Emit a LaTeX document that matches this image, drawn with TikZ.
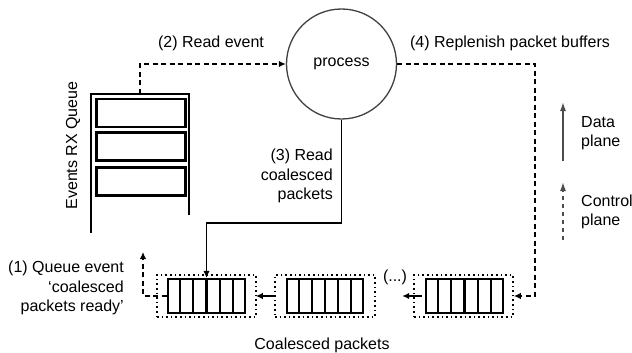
\documentclass[tikz,border=0pt]{standalone}
\usepackage{fontspec}
\setmainfont{Liberation Sans}
\usetikzlibrary{arrows.meta,calc}
\begin{document}
\begin{tikzpicture}[x=1pt,y=-1pt,
  lbl/.style={inner sep=0pt,font=\fontsize{16}{19.5}\selectfont},
  conn/.style={line width=1.5pt,-{Latex[length=7pt,width=6.5pt]}},
  dconn/.style={conn,dash pattern=on 5pt off 3.5pt},
  slot/.style={draw,line width=2.2pt,minimum width=89pt,minimum height=28pt,inner sep=0pt},
  pkt/.style={draw,line width=2.2pt,minimum width=77pt,minimum height=34pt,inner sep=0pt},
  dotbox/.style={draw,line width=1.6pt,dash pattern=on 1.6pt off 3pt,minimum width=99pt,minimum height=42pt,inner sep=0pt},
  legend/.style={line width=1.5pt,draw=black!70,-{Latex[length=9pt,width=6pt]}},
]
\useasboundingbox (0,0) rectangle (632,353);

% process circle
\node[circle,draw=black!75,line width=1.3pt,minimum size=110pt,inner sep=0pt,lbl] (proc) at (341.5,64) {process};

% queue
\draw[line width=2.2pt] (91,233) -- (91,94) -- (189,94) -- (189,215);
\coordinate (qtop) at (140,94);
\node[slot] (s1) at (141,113) {};
\node[slot] (s2) at (141,146.5) {};
\node[slot] (s3) at (141,181.5) {};
\node[lbl,rotate=90] (qlbl) at (73,145.5) {Events RX Queue};

% packet groups
\node[dotbox] (g1d) at (206.5,296) {};
\node[pkt] (g1i) at (206.5,296) {};
\node[dotbox,minimum width=100pt] (g2d) at (325,296) {};
\node[pkt,minimum width=76pt] (g2i) at (325,296) {};
\node[dotbox] (g3d) at (463.5,296) {};
\node[pkt] (g3i) at (464.5,296) {};
\foreach \g in {g1i,g2i,g3i}{
  \foreach \k in {1,...,5}{
    \draw[line width=2.2pt] ($(\g.north west)!\k/6!(\g.north east)$) -- ($(\g.south west)!\k/6!(\g.south east)$);
  }
}
\node[lbl] (dots) at (395,277) {(...)};
\node[lbl] (cp) at (322,345) {Coalesced packets};

% arrows between groups
\draw[conn] ($(g2d.west)+(2,0)$) -- ($(g1d.east)+(-1,0)$);
\draw[conn] ($(g3d.west)+(9,0)$) -- ($(g3d.west)+(-11,0)$);

% (2) read event
\draw[dconn] (qtop) |- (proc.west);
\node[lbl] (l2) at (211,43) {(2) Read event};

% (4) replenish
\coordinate (c4) at (535,296);
\draw[dconn] (proc.east) -| (c4) -- (g3d.east);
\node[lbl] (l4) at (510,43) {(4) Replenish packet buffers};

% (3) read coalesced packets
\coordinate (c3) at (206.5,223);
\draw[conn] (proc.south) |- (c3) -- (g1i.north);
\node[lbl,align=right,anchor=east] (l3) at (333,176) {(3) Read\\coalesced\\packets};

% (1) queue event
\coordinate (c1) at (143,252);
\draw[dconn] (g1i.west) -| (c1);
\node[lbl,align=right,anchor=east] (l1) at (124,288) {(1) Queue event\\‘coalesced\\packets ready’};

% legend
\coordinate (d0) at (563,161);
\coordinate (d1) at (563,102);
\draw[legend] (d0) -- (d1);
\node[lbl,align=left,anchor=west] (dl) at (581,133) {Data\\plane};
\coordinate (e0) at (563,240);
\coordinate (e1) at (563,182);
\draw[legend,dash pattern=on 4pt off 4pt] (e0) -- (e1);
\node[lbl,align=left,anchor=west] (el) at (581,212) {Control\\plane};
\end{tikzpicture}
\end{document}
